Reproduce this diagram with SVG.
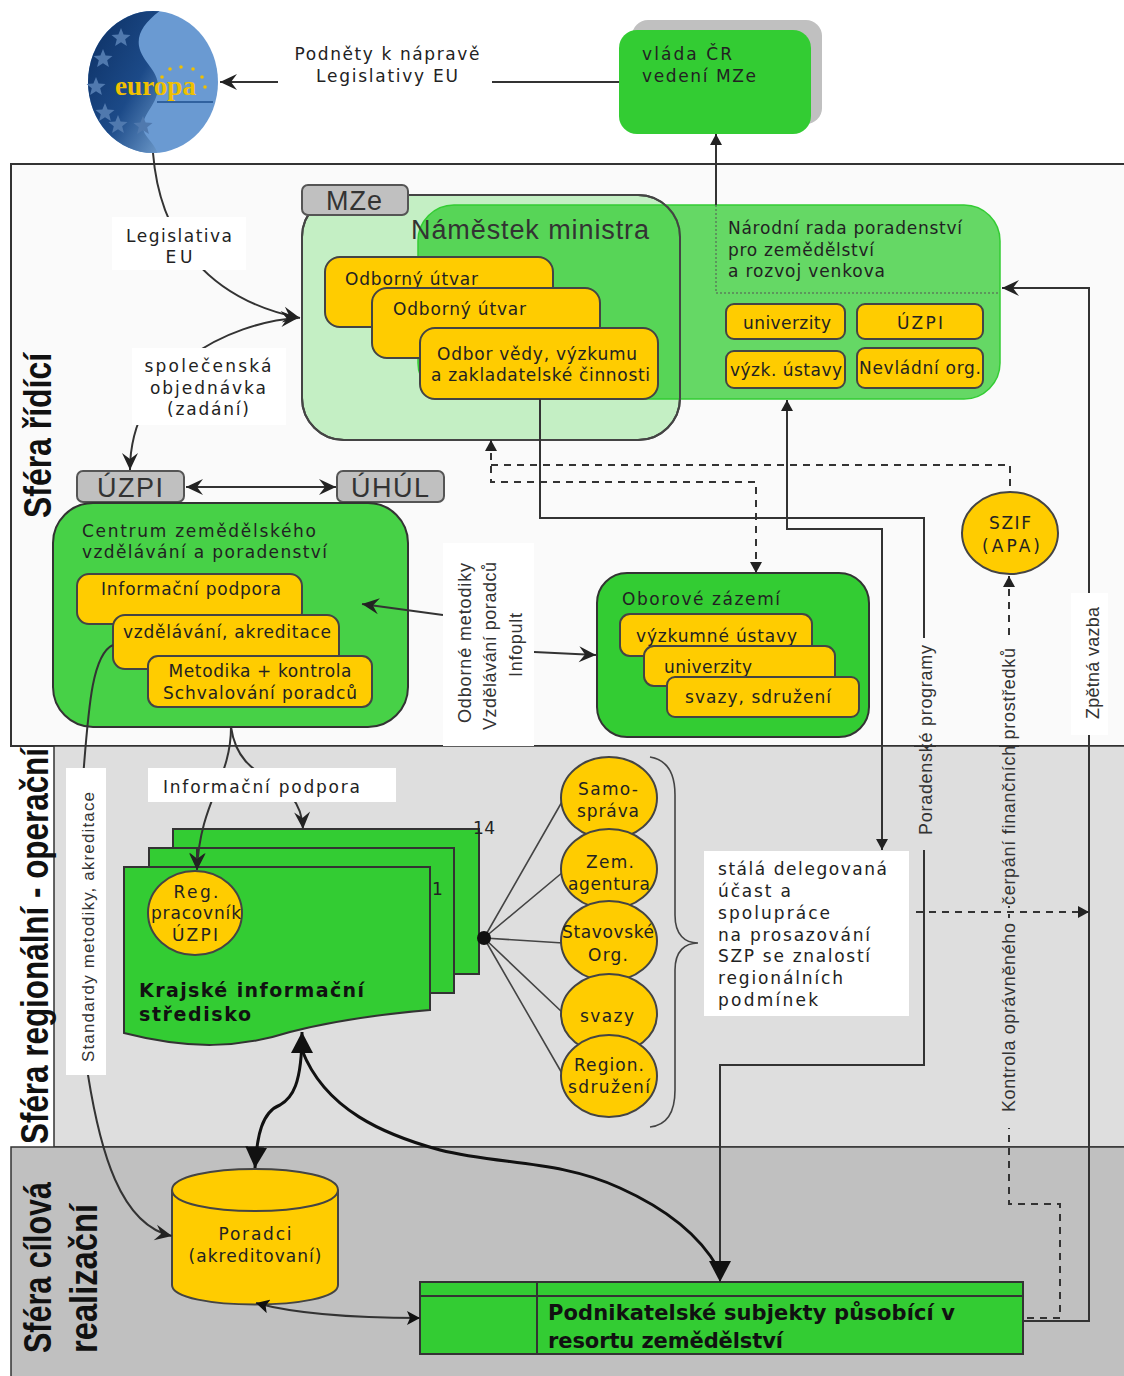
<svg xmlns="http://www.w3.org/2000/svg" width="1124" height="1376" viewBox="0 0 1124 1376">
<style>
text{font-family:"DejaVu Sans","Liberation Sans",sans-serif;font-size:17px;fill:#222}
.c{text-anchor:middle}
.ls{font-family:"Liberation Sans",Arial,sans-serif}
.v{font-family:"Liberation Sans",Arial,sans-serif;font-size:18px;fill:#333}
.tab{font-family:"Liberation Sans",Arial,sans-serif;font-size:27px;fill:#333;text-anchor:middle}
.sph{font-family:"Liberation Sans Narrow","Liberation Sans",Arial,sans-serif;font-weight:bold;font-size:38px;fill:#111}
.b{font-weight:bold;fill:#111}
.y{fill:#ffcc00;stroke:#444;stroke-width:2}
.g{fill:#33cc33;stroke:#333;stroke-width:2}
.t{fill:#c0c0c0;stroke:#555;stroke-width:2}
.w{fill:#fff}
.ln{fill:none;stroke:#333;stroke-width:2}
.bl{fill:none;stroke:#111;stroke-width:3}
.th{fill:none;stroke:#444;stroke-width:1.6}
.d{fill:none;stroke:#333;stroke-width:2;stroke-dasharray:7 6}
.dt{fill:none;stroke:#555;stroke-width:1;stroke-dasharray:2 2}
</style>
<defs>
<marker id="a" markerUnits="userSpaceOnUse" markerWidth="20" markerHeight="18" refX="18" refY="9" orient="auto-start-reverse"><path d="M18,9 L1,1 L7,9 L1,17 Z" fill="#222"/></marker>
<marker id="s" markerUnits="userSpaceOnUse" markerWidth="12" markerHeight="12" refX="11" refY="6" orient="auto-start-reverse"><path d="M11,6 L0,0 L0,12 Z" fill="#222"/></marker>
<marker id="m" markerUnits="userSpaceOnUse" markerWidth="14" markerHeight="14" refX="13" refY="7" orient="auto-start-reverse"><path d="M13,7 L0,0 L3,7 L0,14 Z" fill="#111"/></marker>
<marker id="l" markerUnits="userSpaceOnUse" markerWidth="24" markerHeight="22" refX="21" refY="11" orient="auto-start-reverse"><path d="M21,11 L0,0 L0,22 Z" fill="#111"/></marker>
<linearGradient id="dk" x1="0" y1="0" x2="1" y2="1"><stop offset="0" stop-color="#0a2c5e"/><stop offset="0.6" stop-color="#1c4a88"/><stop offset="1" stop-color="#6f9ccc"/></linearGradient>
<clipPath id="eu"><ellipse cx="153" cy="82" rx="65" ry="71"/></clipPath>
<polygon id="st" points="0,-10 2.6,-3.4 9.5,-3 4.2,1.3 5.9,8 0,4.2 -5.9,8 -4.2,1.3 -9.5,-3 -2.6,-3.4" fill="#5079ae"/>
</defs>

<g id="spheres">
<rect x="11" y="164" width="1125" height="582" fill="#fafafa" stroke="#333" stroke-width="2"/>
<rect x="54" y="746" width="1080" height="401" fill="#dedede" stroke="#333" stroke-width="1.5"/>
<rect x="11" y="1147" width="1125" height="240" fill="#c0c0c0" stroke="#333" stroke-width="1.5"/>
<text class="sph" transform="translate(51,518) rotate(-90)" textLength="165" lengthAdjust="spacingAndGlyphs">Sféra řídící</text>
<text class="sph" transform="translate(48,1144) rotate(-90)" textLength="396" lengthAdjust="spacingAndGlyphs">Sféra regionální - operační</text>
<text class="sph" transform="translate(51,1353) rotate(-90)" textLength="171" lengthAdjust="spacingAndGlyphs">Sféra cílová</text>
<text class="sph" transform="translate(97,1353) rotate(-90)" textLength="149" lengthAdjust="spacingAndGlyphs">realizační</text>
</g>

<g id="europa">
<ellipse cx="153" cy="82" rx="65" ry="71" fill="#6a9ad2"/>
<path clip-path="url(#eu)" d="M161,10 C145,22 137,33 139,46 C142,62 158,70 158,86 C158,105 143,112 143,127 C143,137 155,142 158,155 L80,155 L80,10 Z" fill="url(#dk)"/>
<use href="#st" x="121" y="38"/><use href="#st" x="103" y="59"/><use href="#st" x="96" y="87"/><use href="#st" x="105" y="113"/><use href="#st" x="118" y="125"/><use href="#st" x="143" y="126"/>
<g fill="#f0c000"><circle cx="170" cy="69" r="1.8"/><circle cx="181" cy="67" r="1.8"/><circle cx="193" cy="69" r="1.8"/><circle cx="202" cy="77" r="1.8"/><circle cx="162" cy="77" r="1.8"/><circle cx="205" cy="87" r="1.8"/></g>
<path d="M157,102 H213" stroke="#1f4f8e" stroke-width="1.5" fill="none"/>
<text x="115" y="95" textLength="81" lengthAdjust="spacingAndGlyphs" style="font-family:'Liberation Serif',serif;font-weight:bold;font-size:28px;fill:#f0c000">europa</text>
</g>

<g id="vlada">
<rect x="632" y="20" width="190" height="104" rx="16" fill="#c0c0c0"/>
<rect x="619" y="30" width="192" height="104" rx="18" fill="#33cc33"/>
<text x="642" y="60" textLength="90">vláda ČR</text>
<text x="642" y="82" textLength="114">vedení MZe</text>
</g>

<g id="mze">
<rect x="302" y="195" width="378" height="245" rx="42" fill="#c4efc4" stroke="#444" stroke-width="2"/>
</g>
<g id="rada">
<rect x="418" y="205" width="582" height="194" rx="36" fill="#33cc33" fill-opacity="0.75" stroke="#33cc33" stroke-width="1.5"/>
<path d="M716,205 V293 H1000" class="dt"/>
<text x="728" y="234" textLength="234">Národní rada poradenství</text>
<text x="728" y="256" textLength="146">pro zemědělství</text>
<text x="728" y="277" textLength="157">a rozvoj venkova</text>
<rect class="y" x="726" y="304" width="119" height="35" rx="8"/>
<text class="c" x="787" y="329" textLength="88">univerzity</text>
<rect class="y" x="857" y="304" width="126" height="35" rx="8"/>
<text class="c" x="920" y="329" textLength="46">ÚZPI</text>
<rect class="y" x="726" y="351" width="119" height="37" rx="8"/>
<text class="c" x="786" y="376" textLength="112">výzk. ústavy</text>
<rect class="y" x="857" y="348" width="126" height="40" rx="8"/>
<text class="c" x="920" y="374" textLength="122">Nevládní org.</text>
</g>
<g id="mze-obsah">
<rect x="302" y="195" width="378" height="245" rx="42" fill="none" stroke="#444" stroke-width="2"/>
<rect class="t" x="302" y="185" width="106" height="30" rx="6"/>
<text class="tab" x="354" y="210" textLength="56">MZe</text>
<text class="ls" x="411" y="239" textLength="238" style="font-size:27px;fill:#333">Náměstek ministra</text>
<rect class="y" x="325" y="257" width="228" height="70" rx="15"/>
<text x="345" y="285" textLength="133">Odborný útvar</text>
<rect class="y" x="372" y="288" width="228" height="70" rx="15"/>
<text x="393" y="315" textLength="133">Odborný útvar</text>
<rect class="y" x="420" y="328" width="238" height="71" rx="15"/>
<text x="437" y="360" textLength="200">Odbor vědy, výzkumu</text>
<text x="431" y="381" textLength="219">a zakladatelské činnosti</text>
</g>

<g id="uzpi"><rect class="t" x="77" y="471" width="107" height="31" rx="6"/><text class="tab" x="130" y="497" textLength="66">ÚZPI</text></g>
<g id="uhul"><rect class="t" x="337" y="471" width="107" height="31" rx="6"/><text class="tab" x="390" y="497" textLength="78">ÚHÚL</text></g>

<g id="centrum">
<rect x="53" y="503" width="355" height="224" rx="40" fill="#47d147" stroke="#333" stroke-width="2"/>
<text x="82" y="537" textLength="234">Centrum zemědělského</text>
<text x="82" y="558" textLength="245">vzdělávání a poradenství</text>
<rect class="y" x="77" y="574" width="225" height="50" rx="12"/>
<text x="101" y="595" textLength="180">Informační podpora</text>
<rect class="y" x="113" y="615" width="226" height="54" rx="12"/>
<text x="123" y="638" textLength="208">vzdělávání, akreditace</text>
<rect class="y" x="148" y="656" width="224" height="51" rx="10"/>
<text class="c" x="260" y="677" textLength="183">Metodika + kontrola</text>
<text class="c" x="260" y="699" textLength="194">Schvalování poradců</text>
</g>

<g id="oborove">
<rect x="597" y="573" width="272" height="164" rx="30" class="g"/>
<text x="622" y="605" textLength="158">Oborové zázemí</text>
<rect class="y" x="620" y="614" width="192" height="42" rx="10"/>
<text x="636" y="642" textLength="161">výzkumné ústavy</text>
<rect class="y" x="644" y="646" width="191" height="40" rx="10"/>
<text x="664" y="673" textLength="88">univerzity</text>
<rect class="y" x="667" y="677" width="192" height="40" rx="8"/>
<text x="685" y="703" textLength="146">svazy, sdružení</text>
</g>

<g id="szif">
<ellipse class="y" cx="1010" cy="533" rx="48" ry="41"/>
<text class="c" x="1010" y="529" textLength="42">SZIF</text>
<text class="c" x="1011" y="552" textLength="58">(APA)</text>
</g>

<g id="krajske">
<rect class="g" x="173" y="829" width="306" height="145"/>
<text x="473" y="834" textLength="22">14</text>
<rect class="g" x="149" y="848" width="305" height="145"/>
<path class="g" d="M124,867 H430 V1010 C370,1015 325,1023 290,1032 C240,1048 190,1050 124,1033 Z"/>
<text x="432" y="895">1</text>
<text x="139" y="997" class="b" textLength="225" style="font-size:19px">Krajské informační</text>
<text x="139" y="1021" class="b" textLength="112" style="font-size:19px">středisko</text>
</g>

<g id="poradci">
<path class="y" d="M172,1190 C172,1162 338,1162 338,1190 V1285 C338,1311 172,1311 172,1285 Z"/>
<path d="M172,1190 C172,1218 338,1218 338,1190" fill="none" stroke="#444" stroke-width="2"/>
<text class="c" x="255" y="1240" textLength="73">Poradci</text>
<text class="c" x="255" y="1262" textLength="133">(akreditovaní)</text>
</g>

<g id="podnikatele">
<rect class="g" x="420" y="1282" width="603" height="72"/>
<path d="M420,1296 H1023 M537,1282 V1354" stroke="#333" stroke-width="2" fill="none"/>
<text x="548" y="1320" class="b" textLength="407" style="font-size:21px">Podnikatelské subjekty působící v</text>
<text x="548" y="1348" class="b" textLength="235" style="font-size:21px">resortu zemědělství</text>
</g>

<g id="connectors">
<path class="ln" d="M619,82 H220" marker-end="url(#a)"/>
<path class="ln" d="M153,153 C160,240 210,300 300,318" marker-end="url(#a)"/>
<path class="ln" d="M298,318 C230,322 130,370 130,470" marker-start="url(#a)" marker-end="url(#a)"/>
<path class="ln" d="M186,487 H336" marker-start="url(#a)" marker-end="url(#a)"/>
<path class="ln" d="M716,205 V134" marker-end="url(#s)"/>
<path class="ln" d="M1023,1321 H1089 V288 H1002" marker-end="url(#a)"/>
<path class="ln" d="M787,400 V529 H882 V850" marker-start="url(#s)" marker-end="url(#s)"/>
<path class="ln" d="M540,399 V518 H924 V1065 H720 V1282" marker-end="url(#l)"/>
<path class="d" d="M491,440 V482 H756 V573" marker-start="url(#s)" marker-end="url(#s)"/>
<path class="d" d="M491,465 H1010 V492"/>
<path class="d" d="M1009,576 V1204 H1060 V1318 H1023" marker-start="url(#s)"/>
<path class="d" d="M916,912 H1089" marker-end="url(#s)"/>
<path class="ln" d="M443,615 L362,604" marker-end="url(#a)"/>
<path class="ln" d="M534,652 L596,655" marker-end="url(#a)"/>
<path class="ln" d="M231,727 C231,780 200,800 197,870" marker-end="url(#a)"/>
<path class="ln" d="M231,727 C240,790 300,770 303,829" marker-end="url(#a)"/>
<path class="ln" d="M113,645 C90,655 88,720 82,790 L88,1075 C100,1150 120,1225 172,1236" marker-end="url(#a)"/>
<path class="bl" d="M302,1032 C302,1085 292,1098 280,1105 C262,1112 257,1135 255,1168" marker-start="url(#l)" marker-end="url(#l)"/>
<path class="bl" d="M302,1050 C325,1110 385,1135 440,1150 C500,1165 560,1160 620,1188 C680,1215 705,1245 718,1268"/>
<path class="ln" d="M256,1303 C300,1315 360,1318 420,1318" marker-start="url(#m)" marker-end="url(#m)"/>
<path class="th" d="M484,938 L563,800 M484,938 L563,872 M484,938 L563,943 M484,938 L563,1013 M484,938 L563,1075"/>
<circle cx="484" cy="938" r="7" fill="#111"/>
<path class="th" d="M650,757 C668,760 675,775 675,795 V915 C675,935 685,943 698,943 C685,943 675,951 675,970 V1090 C675,1112 668,1125 650,1127"/>
</g>

<g id="reg-pracovnik">
<ellipse class="y" cx="195" cy="913" rx="47" ry="42"/>
<text class="c" x="196" y="898" textLength="45">Reg.</text>
<text class="c" x="196" y="919" textLength="90">pracovník</text>
<text class="c" x="195" y="941" textLength="46">ÚZPI</text>
</g>
<path d="M197,848 V870" class="ln" marker-end="url(#a)"/>

<g id="samosprava"><ellipse class="y" cx="609" cy="798" rx="48" ry="41"/><text class="c" x="608" y="795" textLength="60">Samo-</text><text class="c" x="608" y="817" textLength="62">správa</text></g>
<g id="agentura"><ellipse class="y" cx="609" cy="869" rx="48" ry="40"/><text class="c" x="610" y="868" textLength="48">Zem.</text><text class="c" x="609" y="890" textLength="82">agentura</text></g>
<g id="stavovske"><ellipse class="y" cx="609" cy="941" rx="48" ry="40"/><text class="c" x="608" y="938" textLength="92">Stavovské</text><text class="c" x="608" y="961" textLength="40">Org.</text></g>
<g id="svazy"><ellipse class="y" cx="609" cy="1014" rx="48" ry="40"/><text class="c" x="607" y="1022" textLength="54">svazy</text></g>
<g id="region"><ellipse class="y" cx="609" cy="1076" rx="48" ry="41"/><text class="c" x="609" y="1071" textLength="70">Region.</text><text class="c" x="609" y="1093" textLength="82">sdružení</text></g>

<g id="labels">
<rect class="w" x="278" y="40" width="214" height="44"/>
<text class="c" x="387" y="60" textLength="185">Podněty k nápravě</text>
<text class="c" x="387" y="82" textLength="142">Legislativy EU</text>
<rect class="w" x="112" y="217" width="134" height="53"/>
<text class="c" x="179" y="242" textLength="106">Legislativa</text>
<text class="c" x="179" y="263" textLength="27">EU</text>
<rect class="w" x="132" y="348" width="154" height="77"/>
<text class="c" x="208" y="372" textLength="127">společenská</text>
<text class="c" x="208" y="394" textLength="116">objednávka</text>
<text class="c" x="208" y="415" textLength="82">(zadání)</text>
<rect class="w" x="443" y="543" width="91" height="203"/>
<text class="v" transform="translate(471,723) rotate(-90)" textLength="160">Odborné metodiky</text>
<text class="v" transform="translate(496,730) rotate(-90)" textLength="168">Vzdělávání poradců</text>
<text class="v" transform="translate(522,677) rotate(-90)" textLength="64">Infopult</text>
<rect class="w" x="148" y="768" width="248" height="34"/>
<text x="163" y="793" textLength="197">Informační podpora</text>
<rect class="w" x="66" y="768" width="40" height="307"/>
<text class="v" transform="translate(94,1062) rotate(-90)" textLength="270" style="font-size:17px">Standardy metodiky, akreditace</text>
<rect class="w" x="704" y="851" width="205" height="165"/>
<text x="718" y="875" textLength="169">stálá delegovaná</text>
<text x="718" y="897" textLength="73">účast a</text>
<text x="718" y="919" textLength="112">spolupráce</text>
<text x="718" y="941" textLength="152">na prosazování</text>
<text x="718" y="962" textLength="152">SZP se znalostí</text>
<text x="718" y="984" textLength="125">regionálních</text>
<text x="718" y="1006" textLength="100">podmínek</text>
<rect x="914" y="638" width="22" height="108" fill="#fafafa"/>
<rect x="914" y="746" width="22" height="104" fill="#dedede"/>
<path d="M914,746 H936" stroke="#333" stroke-width="2"/>
<text class="v" transform="translate(932,835) rotate(-90)" textLength="190">Poradenské programy</text>
<rect x="999" y="640" width="20" height="106" fill="#fafafa"/>
<rect x="999" y="746" width="20" height="160" fill="#dedede"/>
<rect x="999" y="918" width="20" height="210" fill="#dedede"/>
<path d="M999,746 H1019" stroke="#333" stroke-width="2"/>
<text class="v" transform="translate(1015,1112) rotate(-90)" textLength="189">Kontrola oprávněného</text>
<text class="v" transform="translate(1015,905) rotate(-90)" textLength="257">čerpání finančních prostředků</text>
<rect class="w" x="1071" y="593" width="37" height="142"/>
<text class="v" transform="translate(1099,719) rotate(-90)" textLength="112">Zpětná vazba</text>
</g>
</svg>
